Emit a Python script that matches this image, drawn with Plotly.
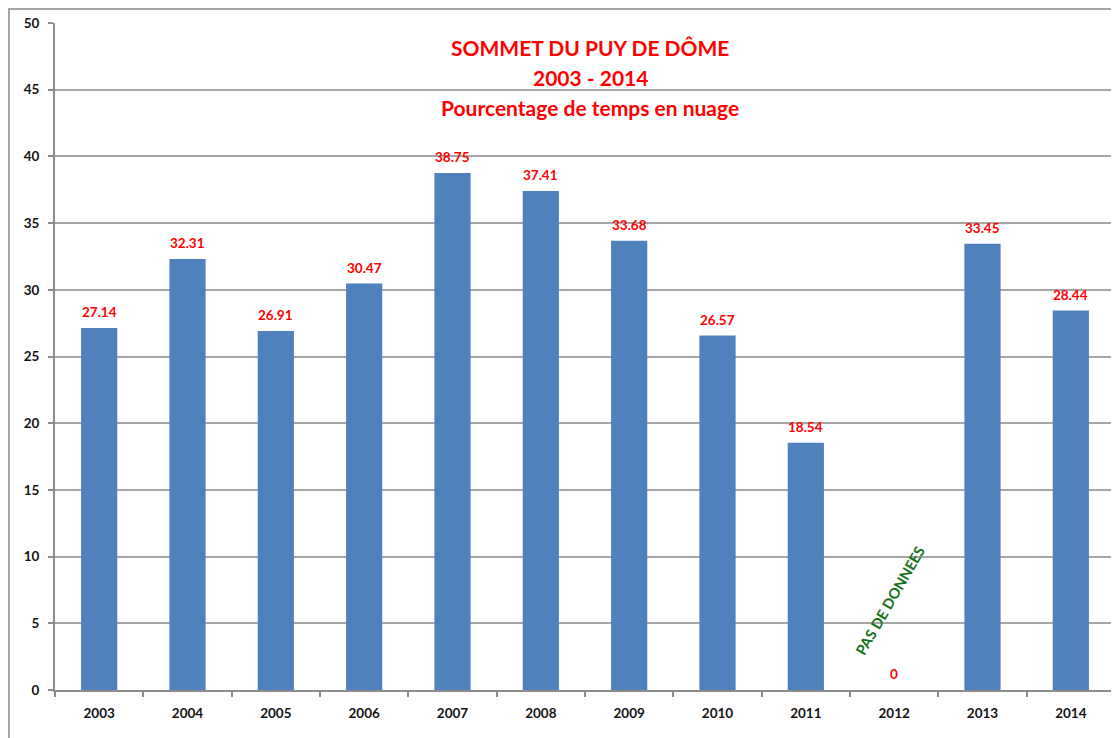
import plotly.graph_objects as go

years = ["2003", "2004", "2005", "2006", "2007", "2008", "2009", "2010", "2011", "2012", "2013", "2014"]
values = [27.14, 32.31, 26.91, 30.47, 38.75, 37.41, 33.68, 26.57, 18.54, 0, 33.45, 28.44]
labels = ["27.14", "32.31", "26.91", "30.47", "38.75", "37.41", "33.68", "26.57", "18.54", "0", "33.45", "28.44"]
title_lines = ["SOMMET DU PUY DE DÔME", "2003 - 2014", "Pourcentage de temps en nuage"]
no_data_year = "2012"
no_data_text = "PAS DE DONNEES"

FONT = "Lato"

# page body has an 8px margin: shrink figure so plot area lands at the reference position
W, H = 1111, 730
L, R, T, B = 47, 4, 15, 48
PX0, PX1 = 55, 1115   # plot area in window pixels
PY0, PY1 = 23, 690


def px_to_paper_x(px):
    return (px - PX0) / (PX1 - PX0)


def px_to_paper_y(py):
    return (PY1 - py) / (PY1 - PY0)


fig = go.Figure()
fig.add_trace(go.Bar(
    x=years, y=values,
    marker=dict(color="#4f81bd", line=dict(width=0)),
    width=0.41,
    hoverinfo="x+y",
))

annotations = []
for i, (v, lab) in enumerate(zip(values, labels)):
    annotations.append(dict(
        x=i, y=v, xref="x", yref="y", text=lab, showarrow=False,
        yanchor="bottom", yshift=6,
        font=dict(family=FONT, size=13.5, color="#ff0000", weight="bold"),
    ))

annotations.append(dict(
    x=years.index(no_data_year), y=6.7, xref="x", yref="y", text=no_data_text, showarrow=False,
    textangle=-60, xshift=-4,
    font=dict(family=FONT, size=14.5, color="#16701a", weight="bold"),
))

title_y = [47, 77, 108]
for line, ty in zip(title_lines, title_y):
    annotations.append(dict(
        x=px_to_paper_x(590), y=px_to_paper_y(ty), xref="paper", yref="paper",
        text=line, showarrow=False, xanchor="center", yanchor="middle",
        font=dict(family=FONT, size=21, color="#ff0000", weight="bold"),
    ))

fig.update_layout(
    width=W, height=H,
    margin=dict(l=L, r=R, t=T, b=B),
    paper_bgcolor="white", plot_bgcolor="white",
    showlegend=False,
    annotations=annotations,
    shapes=[dict(
        type="rect", xref="paper", yref="paper",
        x0=px_to_paper_x(9), x1=px_to_paper_x(1125), y0=px_to_paper_y(760), y1=px_to_paper_y(9),
        line=dict(color="#a6a6a6", width=2), fillcolor="rgba(0,0,0,0)", layer="below",
    )],
    xaxis=dict(
        type="category",
        range=[-0.5, len(years) - 0.5],
        showgrid=False,
        showline=True, linecolor="#8c8c8c", linewidth=2,
        ticks="outside", tickson="boundaries", ticklen=5, tickcolor="#8c8c8c", tickwidth=2,
        tickfont=dict(family=FONT, size=13.5, color="#141414", weight="bold"),
        ticklabelstandoff=10,
        tickangle=0,
        fixedrange=True,
    ),
    yaxis=dict(
        range=[0, 50], dtick=5,
        showgrid=True, gridcolor="#a6a6a6", gridwidth=1.5,
        showline=True, linecolor="#8c8c8c", linewidth=2,
        ticks="outside", ticklen=5, tickcolor="#8c8c8c", tickwidth=2,
        tickfont=dict(family=FONT, size=13.5, color="#141414", weight="bold"),
        ticklabelstandoff=6,
        zeroline=False,
        fixedrange=True,
    ),
)

fig.write_html("out.html")
